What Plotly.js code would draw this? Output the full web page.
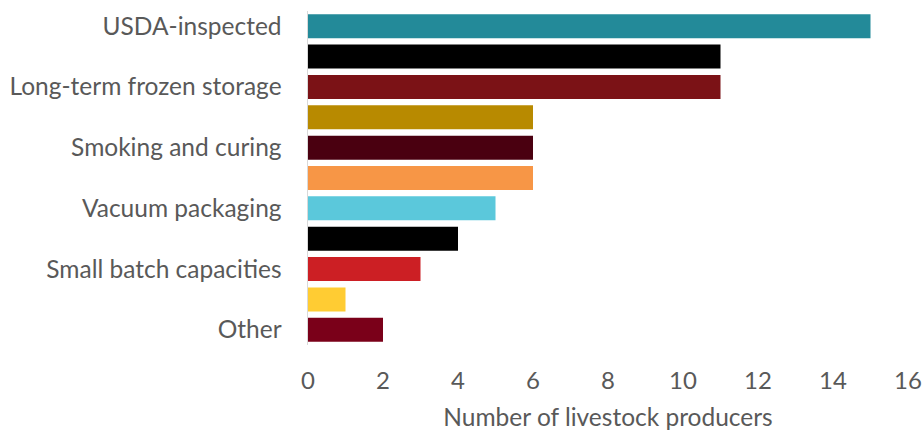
<!DOCTYPE html>
<html><head><meta charset="utf-8">
<script src="https://cdn.plot.ly/plotly-3.0.1.min.js"></script>
<style>html,body{margin:0;padding:0;background:#fff}</style>
</head><body>
<div id="chart" style="width:923px;height:431px"></div>
<script>
const categories = ["USDA-inspected","Unlabeled 2","Long-term frozen storage","Unlabeled 4","Smoking and curing","Unlabeled 6","Vacuum packaging","Unlabeled 8","Small batch capacities","Unlabeled 10","Other"];
const tickLabels = ["USDA-inspected","","Long-term frozen storage","","Smoking and curing","","Vacuum packaging","","Small batch capacities","","Other"];
const values = [15,11,11,6,6,6,5,4,3,1,2];
const colors = ["#238A99","#000000","#7B1216","#B88A00","#4A0010","#F79646","#5BC8DB","#000000","#CC1F24","#FFCC33","#7A0019"];
const xTicks = [0,2,4,6,8,10,12,14,16];

const fam = "Lato, 'Open Sans', sans-serif";
const col = "#595959";
Plotly.newPlot("chart", [{
  type: "bar", orientation: "h",
  y: categories, x: values,
  marker: {color: colors, line: {width: 0}},
  hoverinfo: "x+y"
}], {
  width: 923, height: 431,
  margin: {l: 308, r: 15, t: 11, b: 86},
  paper_bgcolor: "#fff", plot_bgcolor: "#fff",
  bargap: 0.21,
  showlegend: false,
  font: {family: fam, color: col, size: 20},
  xaxis: {
    range: [0, 16], tickvals: xTicks, ticktext: xTicks.map(String),
    showgrid: false, zeroline: false, showline: false,
    ticks: "outside", ticklen: 14, tickcolor: "rgba(0,0,0,0)",
    tickfont: {family: fam, color: col, size: 24},
    title: {text: "Number of livestock producers", font: {family: fam, color: col, size: 24.5}, standoff: 16}
  },
  yaxis: {
    type: "category", autorange: "reversed",
    categoryorder: "array", categoryarray: categories,
    tickvals: categories, ticktext: tickLabels,
    showgrid: false, zeroline: false,
    showline: true, linecolor: "#D9D9D9", linewidth: 1.5,
    ticks: "outside", ticklen: 20, tickcolor: "rgba(0,0,0,0)",
    tickfont: {family: fam, color: col, size: 24.5}
  }
}, {displayModeBar: false, staticPlot: true});
</script>
</body></html>
